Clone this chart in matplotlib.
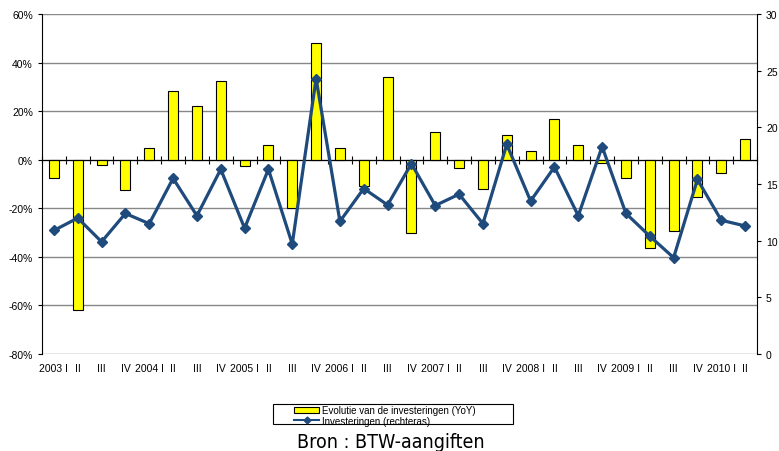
import matplotlib
matplotlib.use("Agg")
import matplotlib.pyplot as plt
from matplotlib.patches import Patch, Rectangle
from matplotlib.lines import Line2D
from matplotlib.ticker import FuncFormatter
import numpy as np

plt.rcParams['font.family'] = ['Liberation Sans', 'DejaVu Sans']

# quarters 2003 Q1 .. 2010 Q2
quarters = ["2003 I", "II", "III", "IV",
            "2004 I", "II", "III", "IV",
            "2005 I", "II", "III", "IV",
            "2006 I", "II", "III", "IV",
            "2007 I", "II", "III", "IV",
            "2008 I", "II", "III", "IV",
            "2009 I", "II", "III", "IV",
            "2010 I", "II"]

# year-on-year change (%), left axis
yoy = [-7.5, -62, -2, -12.5, 5, 28.3, 22.1, 32.4, -2.6, 5.9,
       -20, 47.9, 4.8, -11, 34, -30, 11.6, -3.4, -11.9, 10.0,
       3.6, 16.7, 6.2, -1.2, -7.5, -36.3, -29.5, -15.2, -5.3, 8.6]

# investments, right axis
invest = [10.9, 12.0, 9.9, 12.4, 11.5, 15.5, 12.2, 16.3, 11.1, 16.3,
          9.7, 24.3, 11.7, 14.6, 13.15, 16.8, 13.1, 14.1, 11.5, 18.5,
          13.5, 16.5, 12.2, 18.3, 12.4, 10.4, 8.5, 15.4, 11.8, 11.3]

yoy_label = "Evolutie van de investeringen (YoY)"
inv_label = "Investeringen (rechteras)"
source = "Bron : BTW-aangiften"

navy = "#1f4a7c"
grid_c = "#888888"

fig = plt.figure(figsize=(7.79, 4.52), dpi=100)
ax = fig.add_axes([0.0539, 0.2146, 0.9179, 0.7522])
ax2 = ax.twinx()

x = np.arange(len(quarters))

ax.bar(x, yoy, width=0.42, color="#ffff00", edgecolor="black", linewidth=0.8, zorder=3)
ax.set_ylim(-80, 60)
ax.set_xlim(-0.5, len(quarters) - 0.5)
ax.set_yticks(np.arange(-80, 61, 20))
ax.yaxis.set_major_formatter(FuncFormatter(lambda v, p: f"{v:.0f}%"))
ax.grid(axis="y", color=grid_c, linewidth=1.0, zorder=0)
ax.set_axisbelow(True)

# category axis crosses at zero
ax.spines["bottom"].set_position(("data", 0))
ax.spines["bottom"].set_zorder(4)
ax.spines["top"].set_visible(False)
ax.spines["right"].set_visible(False)
ax.set_xticks(np.arange(len(quarters) + 1) - 0.5)
ax.tick_params(axis="x", direction="inout", length=6, labelbottom=False)
ax.tick_params(axis="y", direction="out", length=3, labelsize=7.5, colors="black")

for i, lab in enumerate(quarters):
    ax.text(i, -0.025, lab, transform=ax.get_xaxis_transform(),
            ha="center", va="top", fontsize=7.5)

ax2.plot(x, invest, color=navy, linewidth=2.3, marker="D", markersize=5, zorder=5)
ax2.set_ylim(0, 30)
ax2.set_yticks(np.arange(0, 31, 5))
ax2.tick_params(axis="y", direction="out", length=3, labelsize=7.5)
for s in ["top", "left", "bottom"]:
    ax2.spines[s].set_visible(False)

handles = [Patch(facecolor="#ffff00", edgecolor="black", linewidth=0.8),
           Line2D([], [], color=navy, linewidth=1.5, marker="D", markersize=3.5)]
fig.legend(handles, [yoy_label, inv_label], loc="center left",
           bbox_to_anchor=(0.378, 0.079), fontsize=7, frameon=False,
           borderpad=0.0, labelspacing=0.05, handlelength=2.5,
           handleheight=0.6, handletextpad=0.3, borderaxespad=0)
# legend box (wider than the entries)
fig.add_artist(Rectangle((273 / 779, 1 - 425 / 452), 240 / 779, 20 / 452,
                         transform=fig.transFigure, fill=False,
                         edgecolor="black", linewidth=0.8))

fig.text(0.502, 0.02, source, ha="center", va="center", fontsize=14,
         family=["DejaVu Sans"], fontstretch="condensed")

fig.savefig("out.png", dpi=100)
